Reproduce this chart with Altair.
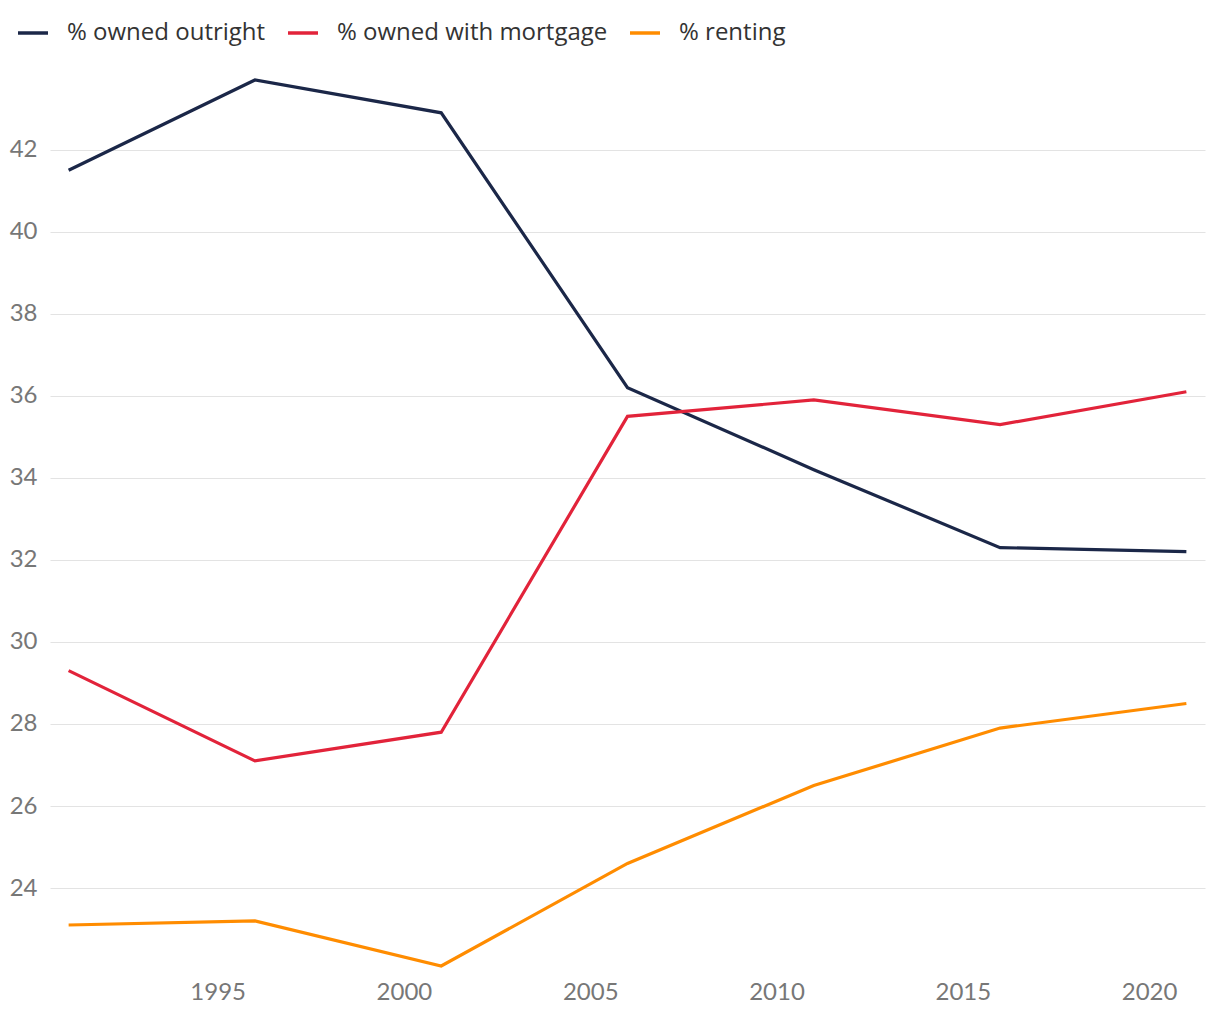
import altair as alt
import pandas as pd

years = [1991, 1996, 2001, 2006, 2011, 2016, 2021]
owned_outright = [41.5, 43.7, 42.9, 36.2, 34.2, 32.3, 32.2]
owned_mortgage = [29.3, 27.1, 27.8, 35.5, 35.9, 35.3, 36.1]
renting = [23.1, 23.2, 22.1, 24.6, 26.5, 27.9, 28.5]

series_names = ["% owned outright", "% owned with mortgage", "% renting"]
series_colors = ["#1b2748", "#e2233a", "#ff8c00"]
x_ticks = [1995, 2000, 2005, 2010, 2015, 2020]
y_ticks = [24, 26, 28, 30, 32, 34, 36, 38, 40, 42]

rows = []
for name, vals in zip(series_names, [owned_outright, owned_mortgage, renting]):
    for y, v in zip(years, vals):
        rows.append({"year": y, "value": v, "series": name})
df = pd.DataFrame(rows)

chart = alt.Chart(df).mark_line(strokeWidth=3.2).encode(
    x=alt.X("year:Q",
            scale=alt.Scale(domain=[1990.5, 2021.5], nice=False, zero=False),
            axis=alt.Axis(values=x_ticks, format="d", title=None, grid=False,
                          domain=False, ticks=False, labelFontSize=24,
                          labelFont="Lato", labelColor="#777777", labelPadding=14)),
    y=alt.Y("value:Q",
            scale=alt.Scale(domain=[22.1, 43.7], nice=False, zero=False),
            axis=alt.Axis(values=y_ticks, title=None, grid=True, gridColor="#e3e3e3",
                          gridWidth=1, domain=False, ticks=False, labelFontSize=24,
                          labelFont="Lato", labelColor="#777777", labelPadding=13)),
    color=alt.Color("series:N",
                    scale=alt.Scale(domain=series_names, range=series_colors),
                    legend=alt.Legend(title=None, orient="none", direction="horizontal",
                                      legendX=-34, legendY=-64,
                                      symbolType="stroke", symbolSize=900,
                                      symbolStrokeWidth=3.5, labelFontSize=24,
                                      labelFont="Open Sans", labelColor="#333333",
                                      labelLimit=0, labelOffset=17, columnPadding=15)),
).properties(
    width=1155, height=886,
    autosize=alt.AutoSizeParams(type="none"),
    padding={"left": 42, "top": 72, "right": 7, "bottom": 46},
).configure_view(stroke=None)

chart.save("out.html", embed_options={"renderer": "svg", "actions": False})
